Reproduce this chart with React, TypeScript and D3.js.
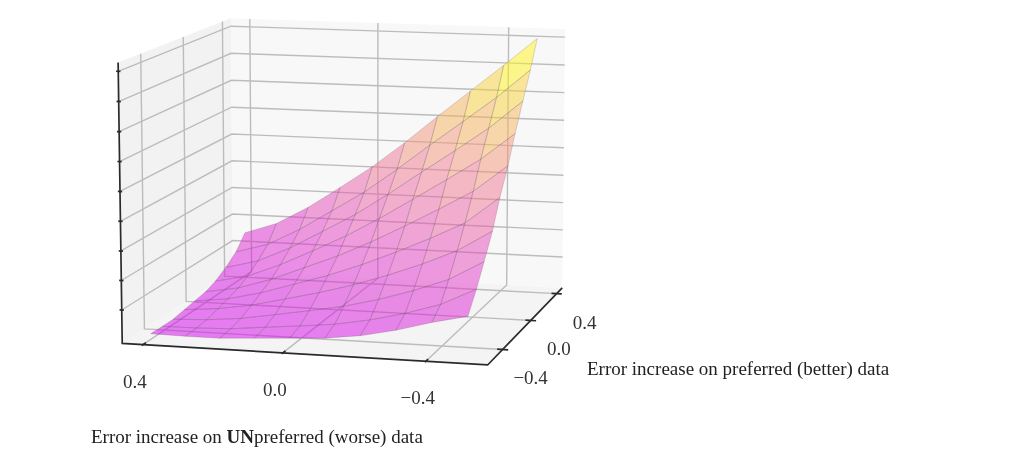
import React, { useMemo } from "react";
import * as d3 from "d3";

const WIDTH = 1015;
const HEIGHT = 467;

// surface grid
const unpreferred = [0.4, 0.3, 0.2, 0.1, 0.0, -0.1, -0.2, -0.3, -0.4, -0.5];
const preferred = [-0.53, -0.42, -0.32, -0.21, -0.11, 0.0, 0.1, 0.21, 0.32, 0.42];
// rows follow preferred, columns follow unpreferred
const surfaceZ = [
  [0.06, 0.04, 0.04, 0.11, 0.18, 0.25, 0.4, 0.65, 0.98, 1.25],
  [0.04, 0.05, 0.09, 0.21, 0.32, 0.45, 0.66, 0.95, 1.32, 1.9],
  [0.04, 0.09, 0.2, 0.4, 0.6, 0.82, 1.12, 1.49, 1.93, 2.6],
  [0.11, 0.21, 0.4, 0.68, 0.97, 1.3, 1.7, 2.15, 2.67, 3.4],
  [0.18, 0.32, 0.6, 0.97, 1.34, 1.78, 2.28, 2.82, 3.41, 4.35],
  [0.25, 0.45, 0.82, 1.3, 1.78, 2.34, 2.96, 3.61, 4.29, 5.23],
  [0.4, 0.65, 1.12, 1.69, 2.28, 2.96, 3.7, 4.45, 5.22, 6.17],
  [0.65, 0.95, 1.49, 2.15, 2.82, 3.61, 4.45, 5.27, 6.12, 7.12],
  [0.98, 1.32, 1.93, 2.67, 3.41, 4.29, 5.22, 6.12, 7.03, 8.05],
  [1.48, 1.88, 2.54, 3.33, 4.15, 5.08, 6.08, 7.05, 8.02, 9.02],
];

const xTicks = [0.4, 0.0, -0.4];
const yTicks = [-0.4, 0.0, 0.4];
const zTicks = [1, 2, 3, 4, 5, 6, 7, 8, 9];

const xScale = d3.scaleLinear().domain([0.46, -0.57]).range([0, 1]);
const yScale = d3.scaleLinear().domain([-0.6, 0.49]).range([0, 1]);
const zScale = d3.scaleLinear().domain([-0.14, 9.29]).range([0, 1]);

// box corners on the page, [x, y, z] in unit cube -> pixel
const boxCorners = [
  [0, 0, 0, 122, 343],
  [1, 0, 0, 488, 365],
  [1, 1, 0, 562, 288],
  [0, 1, 0, 233, 271],
  [0, 0, 1, 118, 63],
  [0, 1, 1, 231, 18],
  [1, 1, 1, 565, 29],
];

// least squares fit of the camera matrix from the box corners
function fitCamera(points: number[][]) {
  const s = 500;
  const rows: number[][] = [];
  const rhs: number[] = [];
  points.forEach(([X, Y, Z, px, py]) => {
    const u = px / s;
    const v = py / s;
    rows.push([X, Y, Z, 1, 0, 0, 0, 0, -u * X, -u * Y, -u * Z]);
    rhs.push(u);
    rows.push([0, 0, 0, 0, X, Y, Z, 1, -v * X, -v * Y, -v * Z]);
    rhs.push(v);
  });
  const n = 11;
  const m = d3.range(n).map((i) =>
    d3.range(n + 1).map((j) =>
      j < n
        ? d3.sum(rows, (r) => r[i] * r[j])
        : d3.sum(rows, (r, k) => r[i] * rhs[k])
    )
  );
  for (let i = 0; i < n; i++) {
    let p = i;
    for (let k = i + 1; k < n; k++) if (Math.abs(m[k][i]) > Math.abs(m[p][i])) p = k;
    [m[i], m[p]] = [m[p], m[i]];
    for (let k = 0; k < n; k++) {
      if (k === i) continue;
      const f = m[k][i] / m[i][i];
      for (let j = i; j <= n; j++) m[k][j] -= f * m[i][j];
    }
  }
  const c = m.map((r, i) => r[n] / r[i]);
  return ([X, Y, Z]: number[]): [number, number] => {
    const w = c[8] * X + c[9] * Y + c[10] * Z + 1;
    return [
      (s * (c[0] * X + c[1] * Y + c[2] * Z + c[3])) / w,
      (s * (c[4] * X + c[5] * Y + c[6] * Z + c[7])) / w,
    ];
  };
}

const project = fitCamera(boxCorners);
const line = d3.line();
const path3d = (pts: number[][]) => line(pts.map(project)) as string;
const poly3d = (pts: number[][]) => path3d(pts) + "Z";

const surfaceColor = d3
  .scaleLinear<string>()
  .domain([0, 4.5, 8.4])
  .range(["#d400ee", "#f07a90", "#ffff10"])
  .clamp(true);

const serif = "'Liberation Serif', 'Times New Roman', serif";
const gridColor = "#bcbcbc";
const axisColor = "#2b2b2b";

export default function App() {
  const cells = useMemo(() => {
    const out: { d: string; z: number; key: string }[] = [];
    // far rows first so the near ones paint on top
    for (let j = preferred.length - 2; j >= 0; j--) {
      for (let i = 0; i < unpreferred.length - 1; i++) {
        const corner = (ii: number, jj: number) => [
          xScale(unpreferred[ii]),
          yScale(preferred[jj]),
          zScale(surfaceZ[jj][ii]),
        ];
        out.push({
          key: `${i}-${j}`,
          d: poly3d([corner(i, j), corner(i + 1, j), corner(i + 1, j + 1), corner(i, j + 1)]),
          z: (surfaceZ[j][i] + surfaceZ[j][i + 1] + surfaceZ[j + 1][i] + surfaceZ[j + 1][i + 1]) / 4,
        });
      }
    }
    return out;
  }, []);

  return (
    <svg
      width={WIDTH}
      height={HEIGHT}
      style={{ position: "absolute", left: 0, top: 0, display: "block", background: "#fff" }}
    >
      {/* the reference is a slightly soft raster */}
      <defs>
        <filter id="soft" x="0" y="0" width="100%" height="100%">
          <feGaussianBlur stdDeviation="0.55" />
        </filter>
      </defs>
      <g filter="url(#soft)">
        <rect width={WIDTH} height={HEIGHT} fill="#fff" />
        {/* panes */}
        <path d={poly3d([[0, 0, 0], [0, 1, 0], [0, 1, 1], [0, 0, 1]])} fill="#f2f2f2" />
        <path d={poly3d([[0, 1, 0], [1, 1, 0], [1, 1, 1], [0, 1, 1]])} fill="#f8f8f8" />
        <path d={poly3d([[0, 0, 0], [1, 0, 0], [1, 1, 0], [0, 1, 0]])} fill="#f4f4f4" />

        {/* grid */}
        <g fill="none" stroke={gridColor} strokeWidth={1.4}>
          {zTicks.map((t) => (
            <path key={t} d={path3d([[0, 0, zScale(t)], [0, 1, zScale(t)], [1, 1, zScale(t)]])} />
          ))}
          {xTicks.map((t) => (
            <path key={t} d={path3d([[xScale(t), 0, 0], [xScale(t), 1, 0], [xScale(t), 1, 1]])} />
          ))}
          {yTicks.map((t) => (
            <path key={t} d={path3d([[1, yScale(t), 0], [0, yScale(t), 0], [0, yScale(t), 1]])} />
          ))}
        </g>

        {/* surface */}
        <g>
          {cells.map((c) => (
            <path
              key={c.key}
              d={c.d}
              fill={surfaceColor(c.z)}
              fillOpacity={0.5}
              stroke="#5a4a5a"
              strokeOpacity={0.2}
              strokeWidth={1}
            />
          ))}
        </g>

        {/* axes */}
        <g fill="none" stroke={axisColor} strokeWidth={1.7}>
          <path d={path3d([[0, 0, 1], [0, 0, 0], [1, 0, 0], [1, 1, 0]])} />
          {zTicks.map((t) => (
            <path key={t} d={path3d([[-0.006, 0, zScale(t)], [0.006, 0, zScale(t)]])} />
          ))}
          {xTicks.map((t) => (
            <path key={t} d={path3d([[xScale(t), -0.01, 0], [xScale(t), 0.025, 0]])} />
          ))}
          {yTicks.map((t) => (
            <path key={t} d={path3d([[0.985, yScale(t), 0], [1.015, yScale(t), 0]])} />
          ))}
        </g>

        {/* tick labels */}
        <g fontFamily={serif} fontSize={19} fill="#333" textAnchor="middle">
          {xTicks.map((t) => {
            const [px, py] = project([xScale(t), 0, 0]);
            return (
              <text key={t} x={px - 8} y={py + 43}>
                {d3.format(".1f")(t)}
              </text>
            );
          })}
          {yTicks.map((t) => {
            const [px, py] = project([1, yScale(t), 0]);
            return (
              <text key={t} x={px + 28} y={py + 35}>
                {d3.format(".1f")(t)}
              </text>
            );
          })}
        </g>

        {/* axis titles */}
        <g fontFamily={serif} fontSize={19} fill="#222">
          <text x={91} y={443}>
            Error increase on <tspan fontWeight="bold">UN</tspan>preferred (worse) data
          </text>
          <text x={587} y={375}>
            Error increase on preferred (better) data
          </text>
        </g>
      </g>
    </svg>
  );
}
